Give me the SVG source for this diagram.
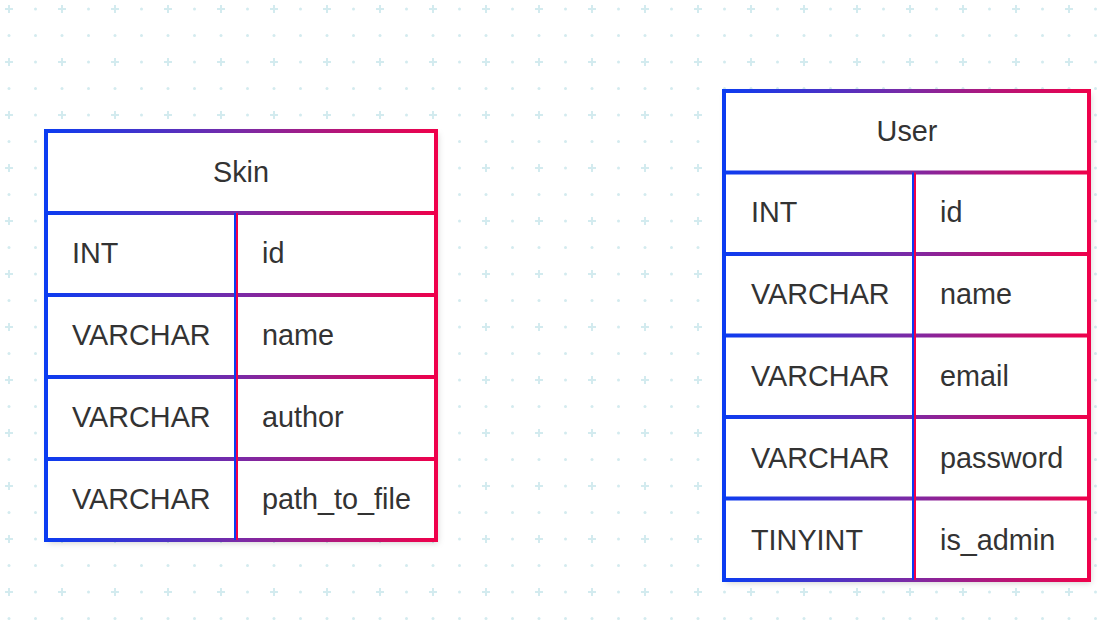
<svg xmlns="http://www.w3.org/2000/svg" width="1118" height="624" viewBox="0 0 1118 624">
<style>
.t{font-family:"Liberation Sans",Arial,sans-serif;font-size:28.8px;fill:#333333}
.c{text-anchor:middle}
.bl{stroke:#0a3cf2;stroke-width:2}
.rd{stroke:#f0004a;stroke-width:2}
</style>
<defs>
<pattern id="grid" x="0" y="0" width="53" height="53" patternUnits="userSpaceOnUse">
<path d="M5 9H13M9 5V13" stroke="#d3ebef" stroke-width="2"/>
<circle cx="35.5" cy="9" r="1.5" fill="#d3ebef"/>
<circle cx="9" cy="35.5" r="1.5" fill="#d3ebef"/>
<circle cx="35.5" cy="35.5" r="1.5" fill="#d3ebef"/>
</pattern>
<linearGradient id="gs" gradientUnits="userSpaceOnUse" x1="44" y1="0" x2="438" y2="0">
<stop offset="0" stop-color="#0a3cf2"/><stop offset="0.5" stop-color="#7a2aa6"/><stop offset="1" stop-color="#f0004a"/>
</linearGradient>
<linearGradient id="gu" gradientUnits="userSpaceOnUse" x1="722" y1="0" x2="1091" y2="0">
<stop offset="0" stop-color="#0a3cf2"/><stop offset="0.5" stop-color="#7a2aa6"/><stop offset="1" stop-color="#f0004a"/>
</linearGradient>
<filter id="sh" x="-10%" y="-10%" width="120%" height="120%">
<feDropShadow dx="2" dy="3" stdDeviation="3" flood-color="#000" flood-opacity="0.18"/>
</filter>
</defs>
<rect width="1118" height="624" fill="#ffffff"/>
<rect width="1118" height="624" fill="url(#grid)"/>
<g id="skin">
<rect x="46" y="131" width="390" height="409" fill="#fff" filter="url(#sh)"/>
<g fill="none" stroke="url(#gs)" stroke-width="4">
<rect x="46" y="131" width="390" height="409"/>
<path d="M46 213H436M46 295H436M46 377H436M46 459H436"/>
</g>
<line class="bl" x1="235" y1="213" x2="235" y2="540"/>
<line class="rd" x1="237" y1="213" x2="237" y2="540"/>
<text class="t c" x="241" y="181.5">Skin</text>
<text class="t" x="72" y="263">INT</text><text class="t" x="262" y="263">id</text>
<text class="t" x="72" y="345">VARCHAR</text><text class="t" x="262" y="345">name</text>
<text class="t" x="72" y="427">VARCHAR</text><text class="t" x="262" y="427">author</text>
<text class="t" x="72" y="509">VARCHAR</text><text class="t" x="262" y="509">path_to_file</text>
</g>
<g id="user">
<rect x="724" y="91" width="365" height="489" fill="#fff" filter="url(#sh)"/>
<g fill="none" stroke="url(#gu)" stroke-width="4">
<rect x="724" y="91" width="365" height="489"/>
<path d="M724 172.5H1089M724 254H1089M724 335.5H1089M724 417H1089M724 498.5H1089"/>
</g>
<line class="bl" x1="913" y1="172.5" x2="913" y2="580"/>
<line class="rd" x1="915" y1="172.5" x2="915" y2="580"/>
<text class="t c" x="907" y="141">User</text>
<text class="t" x="751" y="222">INT</text><text class="t" x="940" y="222">id</text>
<text class="t" x="751" y="304">VARCHAR</text><text class="t" x="940" y="304">name</text>
<text class="t" x="751" y="386">VARCHAR</text><text class="t" x="940" y="386">email</text>
<text class="t" x="751" y="468">VARCHAR</text><text class="t" x="940" y="468">password</text>
<text class="t" x="751" y="550">TINYINT</text><text class="t" x="940" y="550">is_admin</text>
</g>
<g id="connectors"></g>
</svg>
